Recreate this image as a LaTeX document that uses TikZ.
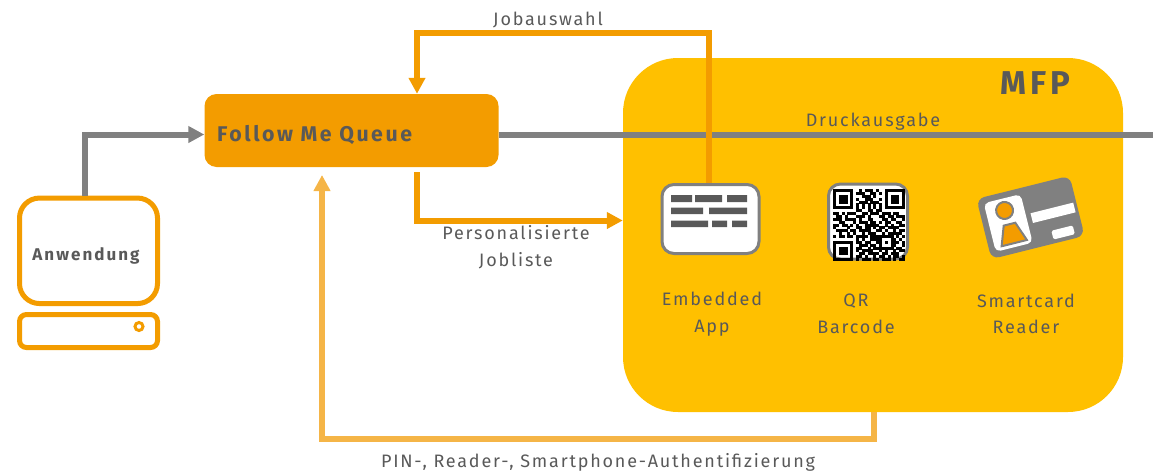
\documentclass[tikz,border=0pt]{standalone}
\usepackage{fontspec}
\usetikzlibrary{arrows.meta}
\setmainfont[LetterSpace=10]{Fira Sans}
\newfontfamily\boldfam[LetterSpace=12]{Fira Sans}
\definecolor{mfpc}{HTML}{FFC000}
\definecolor{orangec}{HTML}{F39C00}
\definecolor{greyc}{HTML}{808080}
\definecolor{authc}{HTML}{F5B547}
\definecolor{textc}{HTML}{595959}
\tikzset{
  conn/.style={line width=6pt,-{Triangle[length=16pt,width=16pt]}},
  greyline/.style={conn,draw=greyc},
  orangeline/.style={conn,draw=orangec},
  authline/.style={conn,draw=authc},
  lab/.style={text=textc,font=\fontsize{18}{26.5}\selectfont,align=center,inner sep=0pt},
  boldlab/.style={text=textc,font=\boldfam\fontsize{21.3}{24}\selectfont\bfseries,inner sep=0pt},
  pcbox/.style={draw=orangec,line width=5pt,fill=white},
  iconbox/.style={draw=greyc,line width=3pt,fill=white,rounded corners=12pt},
  bar/.style={fill=textc},
}
\newcount\qrx
\newcount\qry
\def\qrparse#1{\ifx#1;\else
  \if#11\fill[black] ({833+2.88*\the\qrx},{189+2.88*\the\qry}) rectangle +(3.0,3.0);\fi
  \advance\qrx by 1 \expandafter\qrparse\fi}
\def\qrrow#1{\qrx=0 \qrparse#1;\advance\qry by 1 }
\begin{document}
\begin{tikzpicture}[x=1pt,y=-1pt]
\useasboundingbox (0,0) rectangle (1153,471);
% main boxes
\node[fill=mfpc,rounded corners=55pt,minimum width=500pt,minimum height=354pt,inner sep=0pt] (mfp) at (873,235) {};
\node[fill=orangec,rounded corners=12pt,minimum width=294pt,minimum height=73pt,inner sep=0pt] (follow) at (351.5,130.5) {};
\node[pcbox,rounded corners=20pt,minimum width=138pt,minimum height=105.5pt,inner sep=0pt] (monitor) at (88.5,250.8) {};
\node[pcbox,rounded corners=7pt,minimum width=138pt,minimum height=33pt,inner sep=0pt] (base) at (88.5,331) {};
\node[circle,draw=orangec,line width=3pt,fill=white,minimum size=8pt,inner sep=0pt] (led) at (139,326.5) {};
% icons
\node[iconbox,minimum width=97pt,minimum height=69pt,inner sep=0pt] (embedded) at (710.5,219) {};
\node[iconbox,minimum width=79pt,minimum height=75pt,inner sep=0pt] (qr) at (868,221.5) {};
% helper coordinates
\coordinate (jobtop) at (417,33);
\coordinate (jobright) at (709,33);
\coordinate (listcorner) at (417,220.5);
\coordinate (authcorner) at (874,439);
\coordinate (authleft) at (322,439);
\coordinate (authtip) at (322,175);
\coordinate (pcup) at (85,134.5);
\coordinate (outr) at (1153,134.5);
% connectors
\draw[line width=6pt,draw=greyc] (follow.east |- outr) -- (outr);
\draw[greyline] (monitor.north -| pcup) -- (pcup) -- (pcup -| follow.west);
\draw[orangeline] (embedded.north -| jobright) -- (jobright) -- (jobtop) -- (jobtop |- follow.north);
\draw[orangeline,shorten <=5pt] (follow.south -| listcorner) -- (listcorner) -- (listcorner -| mfp.west);
\draw[authline] (mfp.south -| authcorner) -- (authcorner) -- (authleft) -- (authtip);
% embedded app bars
\fill[bar] (671,195) rectangle (692,202) (695,195) rectangle (722,202) (727,195) rectangle (747,202);
\fill[bar] (671,207.5) rectangle (703,214) (709,207.5) rectangle (747,214);
\fill[bar] (671,220.5) rectangle (708,227) (712,220.5) rectangle (727,227) (732,220.5) rectangle (747,227);
% QR code
\qry=0
\qrrow{1111111001011101001111111}
\qrrow{1000001011100110101000001}
\qrrow{1011101000111010001011101}
\qrrow{1011101010011100101011101}
\qrrow{1011101001110111001011101}
\qrrow{1000001010101010101000001}
\qrrow{1111111010101010101111111}
\qrrow{0000000011001101100000000}
\qrrow{1101011100110111011101100}
\qrrow{0110100011101000110110111}
\qrrow{1110111101001100011011001}
\qrrow{0011000101110110101100110}
\qrrow{1101101010011111001010011}
\qrrow{1000010011011010110111100}
\qrrow{0111101101111001101001011}
\qrrow{0010010100101110010111110}
\qrrow{1011011011110111111110101}
\qrrow{0000000010100111100011010}
\qrrow{1111111011011001101011101}
\qrrow{1000001001110110100011001}
\qrrow{1011101011001011111110110}
\qrrow{1011101010111100101001011}
\qrrow{1011101001101111011011100}
\qrrow{1000001011010010110101101}
\qrrow{1111111010111011011101011}
% smartcard
\begin{scope}[shift={(1030.5,217.4)},rotate=14]
\fill[greyc,rounded corners=8pt] (-48,-31) rectangle (48,31);
\fill[white,rounded corners=5pt] (-42,-25) rectangle (-4,25);
\fill[white] (1,-4) rectangle (45,6);
\fill[white,rounded corners=1.5pt] (17,18) rectangle (39,27);
\draw[fill=orangec,draw=greyc,line width=2pt] (-23.5,-13) circle (8.5);
\draw[fill=orangec,draw=greyc,line width=2pt] (-28,1.5) -- (-16,1.5) -- (-9,21) -- (-35,21) -- cycle;
\end{scope}
% labels
\node[lab,anchor=base] (tjob) at (548,25) {Jobauswahl};
\node[lab,anchor=base] (tdruck) at (873,126) {Druckausgabe};
\node[lab] (tliste) at (516,247) {Personalisierte\\Jobliste};
\node[lab] (tembedded) at (712,314) {Embedded\\App};
\node[lab] (tqr) at (856,314) {QR\\Barcode};
\node[lab] (tsmart) at (1026,314) {Smartcard\\Reader};
\node[lab,anchor=base] (tauth) at (598,467) {PIN-, Reader-, Smartphone-Authentifizierung};
\node[boldlab,anchor=base west] (tfollow) at (217,141) {Follow Me Queue};
\node[boldlab,anchor=base,font=\boldfam\fontsize{33}{36}\selectfont\bfseries] (tmfp) at (1035.5,94) {MFP};
\node[boldlab,anchor=base,font=\boldfam\fontsize{17}{20}\selectfont\bfseries] (tanw) at (86,260) {Anwendung};
\end{tikzpicture}
\end{document}
